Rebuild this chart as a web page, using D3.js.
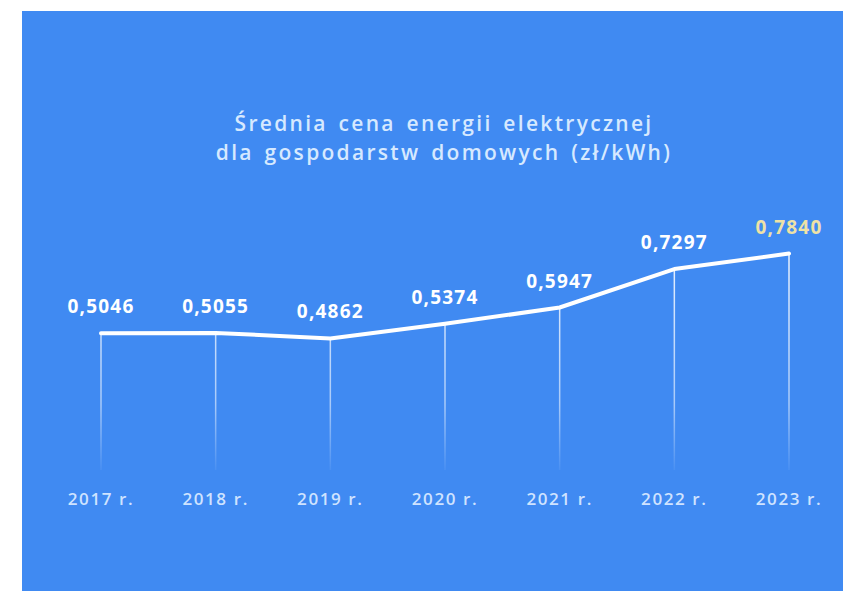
<!DOCTYPE html>
<html>
<head>
<meta charset="utf-8">
<script src="https://cdn.jsdelivr.net/npm/d3@7"></script>
<style>
  html, body { margin: 0; padding: 0; background: #ffffff; }
  svg { display: block; }
</style>
</head>
<body>
<div id="chart"></div>
<script>
// data
const years = ["2017 r.", "2018 r.", "2019 r.", "2020 r.", "2021 r.", "2022 r.", "2023 r."];
const prices = [0.5046, 0.5055, 0.4862, 0.5374, 0.5947, 0.7297, 0.7840];
const priceLabels = ["0,5046", "0,5055", "0,4862", "0,5374", "0,5947", "0,7297", "0,7840"];
const titleLines = ["Średnia cena energii elektrycznej", "dla gospodarstw domowych (zł/kWh)"];

const W = 843, H = 591;
const bg = "#408af2";

const svg = d3.select("#chart").append("svg")
  .attr("width", W)
  .attr("height", H);

// blue panel
svg.append("rect")
  .attr("x", 22).attr("y", 11)
  .attr("width", W - 22).attr("height", H - 11)
  .attr("fill", bg);

//scales
const x = d3.scalePoint()
  .domain(years)
  .range([101, 789]);

const y = d3.scaleLinear()
  .domain([0, 0.8])
  .range([477, 249]);

const data = years.map((yr, i) => ({ year: yr, value: prices[i], label: priceLabels[i] }));

// fading gradient for the drop lines
const defs = svg.append("defs");
const grad = defs.append("linearGradient")
  .attr("id", "dropFade")
  .attr("gradientUnits", "userSpaceOnUse")
  .attr("x1", 0).attr("x2", 0)
  .attr("y1", 250).attr("y2", 470);
grad.append("stop").attr("offset", "0%").attr("stop-color", "#ffffff").attr("stop-opacity", 0.9);
grad.append("stop").attr("offset", "70%").attr("stop-color", "#ffffff").attr("stop-opacity", 0.55);
grad.append("stop").attr("offset", "100%").attr("stop-color", "#ffffff").attr("stop-opacity", 0.05);

// title
svg.append("g")
  .selectAll("text")
  .data(titleLines)
  .enter()
  .append("text")
  .attr("x", 444)
  .attr("y", (d, i) => 131 + i * 29)
  .attr("text-anchor", "middle")
  .style("font-family", "'Open Sans', sans-serif")
  .style("font-size", "21px")
  .style("font-weight", 600)
  .style("letter-spacing", "2.3px")
  .style("word-spacing", "3px")
  .style("fill", "#d6e9ff")
  .text(d => d);

// drop lines
svg.selectAll(".drop")
  .data(data)
  .enter()
  .append("line")
  .attr("class", "drop")
  .attr("x1", d => x(d.year))
  .attr("x2", d => x(d.year))
  .attr("y1", d => y(d.value))
  .attr("y2", 470)
  .attr("stroke", "url(#dropFade)")
  .attr("stroke-width", 1.5);

// main line
const line = d3.line()
  .x(d => x(d.year))
  .y(d => y(d.value));

svg.append("path")
  .datum(data)
  .attr("d", line)
  .attr("fill", "none")
  .attr("stroke", "#ffffff")
  .attr("stroke-width", 4)
  .attr("stroke-linejoin", "round")
  .attr("stroke-linecap", "round");

// value labels
svg.selectAll(".valLabel")
  .data(data)
  .enter()
  .append("text")
  .attr("class", "valLabel")
  .attr("x", d => x(d.year))
  .attr("y", d => y(d.value) - 20)
  .attr("text-anchor", "middle")
  .style("font-family", "'Open Sans', sans-serif")
  .style("font-size", "19px")
  .style("font-weight", 700)
  .style("letter-spacing", "1.2px")
  .style("fill", (d, i) => i === data.length - 1 ? "#eee2a6" : "#ffffff")
  .text(d => d.label);

// year labels
svg.selectAll(".yearLabel")
  .data(years)
  .enter()
  .append("text")
  .attr("class", "yearLabel")
  .attr("x", d => x(d))
  .attr("y", 505)
  .attr("text-anchor", "middle")
  .style("font-family", "'Open Sans', sans-serif")
  .style("font-size", "17px")
  .style("font-weight", 600)
  .style("letter-spacing", "1.6px")
  .style("fill", "#cfe3ff")
  .text(d => d);
</script>
</body>
</html>
